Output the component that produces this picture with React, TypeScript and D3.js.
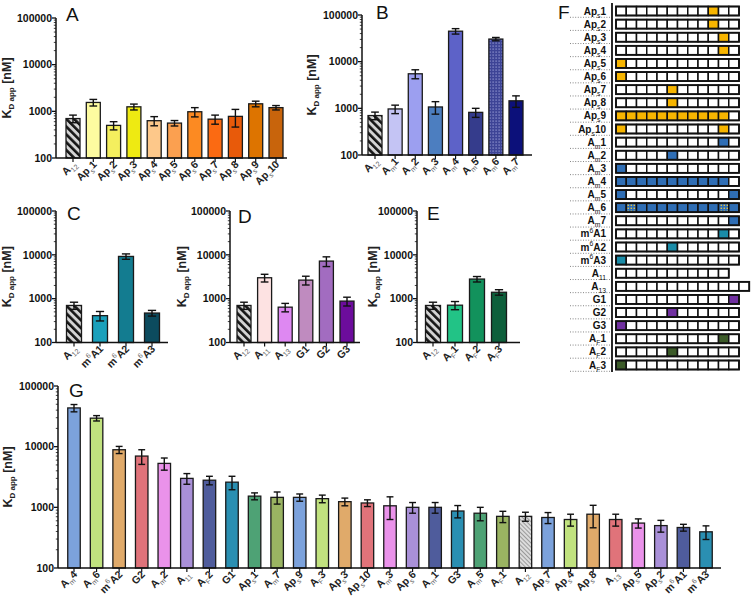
import React from "react";
import * as d3 from "d3";

// ---------- DATA ----------
const aLabels = ["A_{12}", "Ap_{s}1", "Ap_{s}2", "Ap_{s}3", "Ap_{s}4", "Ap_{s}5", "Ap_{s}6", "Ap_{s}7", "Ap_{s}8", "Ap_{s}9", "Ap_{s}10"];
const aValues = [700, 1550, 500, 1250, 630, 560, 980, 680, 780, 1450, 1200];
const aErrors = [130, 250, 100, 180, 140, 75, 220, 150, 320, 200, 130];

const bLabels = ["A_{12}", "A_{m}1", "A_{m}2", "A_{m}3", "A_{m}4", "A_{m}5", "A_{m}6", "A_{m}7"];
const bValues = [700, 970, 5500, 1070, 45000, 820, 30500, 1450];
const bErrors = [130, 200, 1200, 320, 6000, 180, 2500, 400];

const cLabels = ["A_{12}", "m^{6}A1", "m^{6}A2", "m^{6}A3"];
const cValues = [700, 410, 9200, 470];
const cErrors = [130, 100, 1300, 70];

const dLabels = ["A_{12}", "A_{11}", "A_{13}", "G1", "G2", "G3"];
const dValues = [700, 3000, 640, 2650, 7200, 880];
const dErrors = [130, 600, 140, 600, 1800, 200];

const eLabels = ["A_{12}", "A_{F}1", "A_{F}2", "A_{F}3"];
const eValues = [700, 710, 2800, 1400];
const eErrors = [130, 150, 400, 200];

const gLabels = ["A_{m}4", "A_{m}6", "m^{6}A2", "G2", "A_{m}2", "A_{11}", "A_{F}2", "G1", "Ap_{s}1", "A_{m}7", "Ap_{s}9", "A_{F}3", "Ap_{s}3", "Ap_{s}10", "A_{m}3", "Ap_{s}6", "A_{m}1", "G3", "A_{m}5", "A_{F}1", "A_{12}", "Ap_{s}7", "Ap_{s}4", "Ap_{s}8", "A_{13}", "Ap_{s}5", "Ap_{s}2", "m^{6}A1", "m^{6}A3"];
const gValues = [43500, 29500, 8900, 7000, 5300, 3000, 2800, 2600, 1530, 1460, 1460, 1390, 1240, 1180, 1060, 1000, 1000, 870, 800, 710, 710, 680, 630, 770, 630, 550, 500, 465, 395];
const gErrors = [6000, 3000, 1200, 1900, 1200, 600, 450, 650, 200, 330, 200, 200, 180, 150, 430, 200, 200, 200, 200, 150, 120, 140, 140, 310, 140, 95, 110, 60, 100];

const yTickValues = [100, 1000, 10000, 100000];

const fRows = ["Ap_{s}1", "Ap_{s}2", "Ap_{s}3", "Ap_{s}4", "Ap_{s}5", "Ap_{s}6", "Ap_{s}7", "Ap_{s}8", "Ap_{s}9", "Ap_{s}10",
  "A_{m}1", "A_{m}2", "A_{m}3", "A_{m}4", "A_{m}5", "A_{m}6", "A_{m}7",
  "m^{6}A1", "m^{6}A2", "m^{6}A3", "A_{11}", "A_{13}", "G1", "G2", "G3", "A_{F}1", "A_{F}2", "A_{F}3"];
const fGroups = ["Ap", "Ap", "Ap", "Ap", "Ap", "Ap", "Ap", "Ap", "Ap", "Ap",
  "Am", "Am", "Am", "Am", "Am", "Am", "Am", "m6", "m6", "m6", "A", "A", "G", "G", "G", "AF", "AF", "AF"];
const fCellCounts = [12, 12, 12, 12, 12, 12, 12, 12, 12, 12, 12, 12, 12, 12, 12, 12, 12, 12, 12, 12, 11, 13, 12, 12, 12, 12, 12, 12];
const fFilled: number[][] = [
  [9], [9], [10], [10], [0], [0], [5], [5], [0, 1, 2, 3, 4, 5, 6, 7, 8, 9, 10], [0, 10],
  [10], [5], [0], [0, 1, 2, 3, 4, 5, 6, 7, 8, 9, 10], [0, 11], [0, 1, 2, 3, 4, 5, 6, 7, 8, 9, 10, 11], [11],
  [10], [5], [0], [], [], [11], [5], [0], [10], [5], [0]];
const fSpecial: number[][] = fRows.map((r) => (r === "A_{m}6" ? [1, 10] : []));

// ---------- STYLES ----------
const FONT = "'Liberation Sans', Arial, Helvetica, sans-serif";
const HATCH = "url(#hatch)";
const aFills = [HATCH, "#fdfba0", "#f4ef5e", "#eeea12", "#fdc88a", "#fba050", "#fc8a22", "#fb6a12", "#e85a0a", "#dd7400", "#c8640c"];
const bFills = [HATCH, "#c4c4f4", "#9c9ff0", "#4c7ec0", "#5d62c8", "#353c8c", "url(#dots)", "#0c107a"];
const cFills = [HATCH, "#1aa0bb", "#137c90", "#0c4b5e"];
const dFills = [HATCH, "#fde2e2", "#de88f2", "#bf8bbf", "#a26cc0", "#6c0c9c"];
const eFills = [HATCH, "#22c386", "#12925c", "#0e5f3b"];
const gPalette = ["#7ca2dc", "#c1e27f", "#e0aa6a", "#e0737a", "#ea92ea", "#a990d8", "#4f5c9c", "#2a8fb2", "#4ea275", "#9ab462"];
const gFills = gLabels.map((l, i) => (l === "A_{12}" ? "url(#hatchLight)" : gPalette[(i < 20 ? i : i - 1) % 10]));
const fGroupColors: Record<string, string> = { Ap: "#f7b500", Am: "#2f6eb5", m6: "#1a8ca8", A: "#fff", G: "#7030a0", AF: "#3b5a28" };

// ---------- helpers ----------
function parseLabel(s: string) {
  const parts: { t: string; k: string }[] = [];
  const re = /([_^])\{([^}]*)\}|([^_^]+)/g;
  let m: RegExpExecArray | null;
  while ((m = re.exec(s))) {
    if (m[3]) parts.push({ t: m[3], k: "n" });
    else parts.push({ t: m[2], k: m[1] === "_" ? "sub" : "sup" });
  }
  return parts;
}

function Rich({ s, fs, subFill }: { s: string; fs: number; subFill?: string }) {
  const parts = parseLabel(s);
  let cur = 0;
  return (
    <>
      {parts.map((p, i) => {
        const target = p.k === "sub" ? fs * 0.3 : p.k === "sup" ? -fs * 0.42 : 0;
        const dy = target - cur;
        cur = target;
        return (
          <tspan key={i} dy={dy} fontSize={p.k === "n" ? fs : fs * 0.68} fontWeight={p.k === "n" ? "bold" : "normal"}
            fill={p.k === "n" ? undefined : subFill}>
            {p.t}
          </tspan>
        );
      })}
    </>
  );
}

type PanelProps = {
  labels: string[]; values: number[]; errors: number[]; fills: string[];
  ax0: number; ax1: number; c0: number; c1: number; yTop: number; yBot: number;
  barW: number; letter: string; lx: number; ly: number; ylx: number;
};

function BarPanel(p: PanelProps) {
  const y = d3.scaleLog().domain([100, 100000]).range([p.yBot, p.yTop]);
  const x = d3.scalePoint<string>().domain(p.labels).range([p.c0, p.c1]);
  const minors: number[] = [];
  [100, 1000, 10000].forEach((d) => { for (let k = 2; k <= 9; k++) minors.push(d * k); });
  const cap = p.barW * 0.55;
  return (
    <g fontFamily={FONT}>
      <text x={p.lx} y={p.ly} fontSize={19} fill="#111">{p.letter}</text>
      {p.labels.map((l, i) => {
        const cx = x(l)!;
        const v = p.values[i];
        return (
          <rect key={"b" + i} x={cx - p.barW / 2} y={y(v)} width={p.barW} height={p.yBot - y(v)}
            fill={p.fills[i]} stroke="#1a1a1a" strokeWidth={1.3} />
        );
      })}
      {p.labels.map((l, i) => {
        const cx = x(l)!;
        const v = p.values[i], e = p.errors[i];
        const yh = y(v + e), yl = y(Math.max(v - e, 101));
        return (
          <g key={"e" + i} stroke="#111" strokeWidth={1.4}>
            <line x1={cx} x2={cx} y1={yh} y2={yl} />
            <line x1={cx - cap / 2} x2={cx + cap / 2} y1={yh} y2={yh} />
            <line x1={cx - cap / 2} x2={cx + cap / 2} y1={yl} y2={yl} />
          </g>
        );
      })}
      {/* y axis */}
      <line x1={p.ax0} x2={p.ax0} y1={p.yTop} y2={p.yBot} stroke="#111" strokeWidth={1.5} />
      {yTickValues.map((t) => (
        <g key={"t" + t}>
          <line x1={p.ax0 - 4} x2={p.ax0} y1={y(t)} y2={y(t)} stroke="#111" strokeWidth={1.3} />
          <text x={p.ax0 - 4} y={y(t) + 3.8} textAnchor="end" fontSize={10.5} fontWeight="bold" fill="#111">{t}</text>
        </g>
      ))}
      {minors.map((t) => (
        <line key={"m" + t} x1={p.ax0 - 2.2} x2={p.ax0} y1={y(t)} y2={y(t)} stroke="#111" strokeWidth={0.8} />
      ))}
      {/* x axis */}
      <line x1={p.ax0} x2={p.ax1} y1={p.yBot} y2={p.yBot} stroke="#111" strokeWidth={1.5} />
      {p.labels.map((l, i) => {
        const cx = x(l)!;
        return (
          <g key={"x" + i}>
            <line x1={cx} x2={cx} y1={p.yBot} y2={p.yBot + 4} stroke="#111" strokeWidth={1.2} />
            <text transform={`translate(${cx + 4},${p.yBot + 7}) rotate(-45)`} textAnchor="end" fill="#222">
              <Rich s={l} fs={10.5} subFill="#666" />
            </text>
          </g>
        );
      })}
      {/* y label */}
      <text transform={`translate(${p.ylx},${(p.yTop + p.yBot) / 2}) rotate(-90)`} textAnchor="middle" fill="#222" fontSize={12.5} fontWeight="bold">
        <tspan>K</tspan>
        <tspan fontSize={8} dy={3}>D app</tspan>
        <tspan dy={-3}> [nM]</tspan>
      </text>
    </g>
  );
}

function GridPanel() {
  const rowY = d3.scaleLinear().domain([0, fRows.length - 1]).range([11, 365]);
  const cellW = 10.25;
  const gx0 = 616;
  const h = 9;
  return (
    <g fontFamily={FONT}>
      <text x={558} y={19} fontSize={19} fill="#111">F</text>
      <line x1={612} x2={612} y1={3} y2={372} stroke="#111" strokeWidth={1.8} />
      {fRows.map((r, i) => {
        const cy = rowY(i);
        const n = fCellCounts[i];
        const filled = new Set(fFilled[i]);
        const special = new Set(fSpecial[i]);
        const col = fGroupColors[fGroups[i]];
        return (
          <g key={"r" + i}>
            <line x1={570} x2={611} y1={cy + 6.3} y2={cy + 6.3} stroke="#666" strokeWidth={0.8} strokeDasharray="1,1.6" />
            <text x={606} y={cy + 3.5} textAnchor="end" fill="#111"><Rich s={r} fs={10} /></text>
            {d3.range(n).map((c) => (
              <rect key={c} x={gx0 + c * cellW} y={cy - h / 2} width={cellW} height={h}
                fill={special.has(c) ? "url(#dotsF)" : filled.has(c) ? col : "#fff"} stroke="#111" strokeWidth={1.5} />
            ))}
            <rect x={gx0} y={cy - h / 2} width={n * cellW} height={h} fill="none" stroke="#111" strokeWidth={1.8} />
          </g>
        );
      })}
    </g>
  );
}

export default function App() {
  return (
    <svg width={752} height={600} viewBox="0 0 752 600" style={{ position: "absolute", left: 0, top: 0, display: "block", background: "#fff" }}>
      <defs>
        <pattern id="hatch" patternUnits="userSpaceOnUse" width={5.5} height={5.5} patternTransform="rotate(-45)">
          <rect width={5.5} height={5.5} fill="#d4d4d4" />
          <rect width={2.6} height={5.5} fill="#151515" />
        </pattern>
        <pattern id="hatchLight" patternUnits="userSpaceOnUse" width={3} height={3} patternTransform="rotate(-45)">
          <rect width={3} height={3} fill="#dcdcdc" />
          <rect width={1} height={3} fill="#9a9a9a" />
        </pattern>
        <pattern id="dots" patternUnits="userSpaceOnUse" width={3} height={3}>
          <rect width={3} height={3} fill="#3d4496" />
          <rect x={0.5} y={0.5} width={1.2} height={1.2} fill="#9a9fd8" />
        </pattern>
        <pattern id="dotsF" patternUnits="userSpaceOnUse" width={3} height={3}>
          <rect width={3} height={3} fill="#2f6eb5" />
          <rect x={0.6} y={0.6} width={1.4} height={1.4} fill="#e2c040" />
        </pattern>
      </defs>
      <rect width={752} height={600} fill="#fff" />
      <BarPanel labels={aLabels} values={aValues} errors={aErrors} fills={aFills}
        ax0={56} ax1={287} c0={73} c1={276} yTop={18} yBot={158} barW={14} letter="A" lx={66} ly={21} ylx={11} />
      <BarPanel labels={bLabels} values={bValues} errors={bErrors} fills={bFills}
        ax0={362} ax1={532} c0={375} c1={516} yTop={15} yBot={155} barW={14} letter="B" lx={376} ly={19} ylx={316} />
      <BarPanel labels={cLabels} values={cValues} errors={cErrors} fills={cFills}
        ax0={56} ax1={168} c0={74} c1={152} yTop={211} yBot={342.5} barW={15} letter="C" lx={67} ly={220} ylx={11} />
      <BarPanel labels={dLabels} values={dValues} errors={dErrors} fills={dFills}
        ax0={230} ax1={360} c0={244} c1={347} yTop={211} yBot={342.5} barW={14} letter="D" lx={238} ly={223} ylx={186} />
      <BarPanel labels={eLabels} values={eValues} errors={eErrors} fills={eFills}
        ax0={417} ax1={520} c0={433} c1={499} yTop={211} yBot={342.5} barW={15} letter="E" lx={427} ly={220} ylx={377} />
      <BarPanel labels={gLabels} values={gValues} errors={gErrors} fills={gFills}
        ax0={58} ax1={721} c0={74} c1={706} yTop={386} yBot={568} barW={12.5} letter="G" lx={69} ly={397} ylx={12} />
      <GridPanel />
    </svg>
  );
}
